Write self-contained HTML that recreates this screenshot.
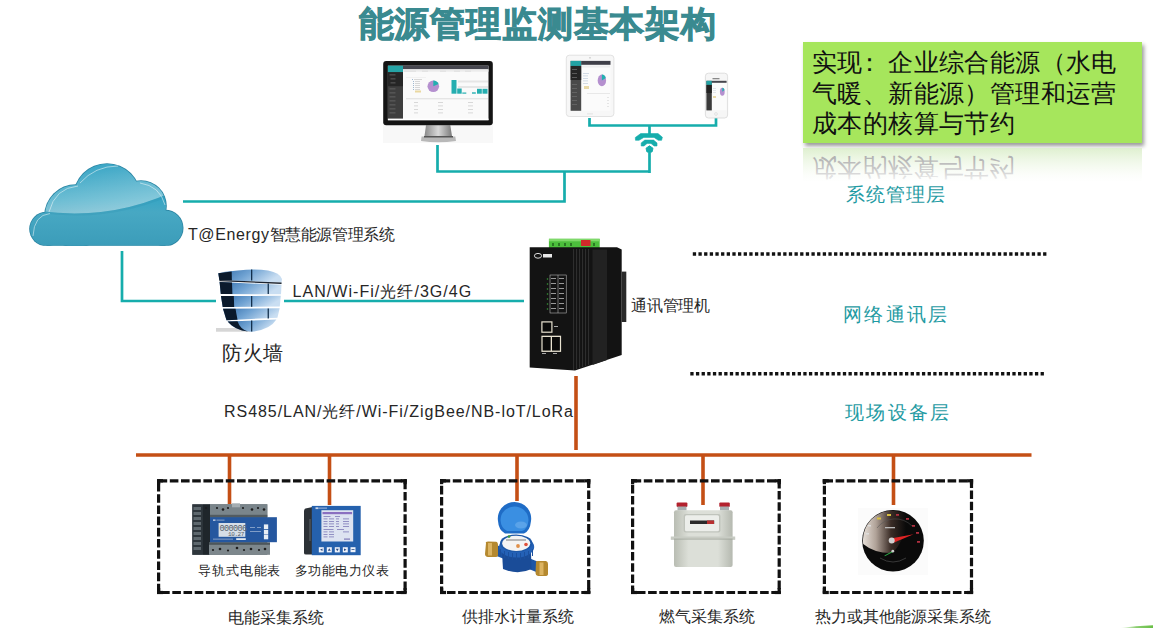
<!DOCTYPE html>
<html><head><meta charset="utf-8">
<style>
html,body{margin:0;padding:0;background:#fff;}
body{width:1153px;height:628px;position:relative;overflow:hidden;font-family:"Liberation Sans",sans-serif;color:#262626;}
.t{position:absolute;white-space:nowrap;line-height:1;}
svg{position:absolute;left:0;top:0;}
</style></head><body>
<svg width="1153" height="628" viewBox="0 0 1153 628">
  <!-- teal lines -->
  <g fill="none" stroke="#16adac" stroke-width="2.7">
    <polyline points="437.5,145 437.5,171.5 650,171.5"/>
    <polyline points="564.5,171.5 564.5,201.5 183,201.5"/>
    <polyline points="589.5,118 589.5,125.5 716,125.5 716,118"/>
    <line x1="649.5" y1="125.5" x2="649.5" y2="135"/>
    <line x1="649.5" y1="149" x2="649.5" y2="173"/>
    <polyline points="122,251 122,301 216,301"/>
    <line x1="284" y1="301" x2="524" y2="301"/>
  </g>
  <g fill="#16adac">
    <path d="M635.5,140.3 L635.3,137.5 L640.7,133.6 L658,133.6 L662.4,137.2 L661.6,140.3 L658.3,140.3 L654.1,137.4 L643.8,137.4 L639,140.3 Z" stroke="#16adac" stroke-width="0.6" stroke-linejoin="round"/>
    <path d="M641.2,146 L641.2,142.9 L644.8,140.1 L653.6,140.1 L657,142.9 L657,146 L654.1,146 L651,143.4 L647.1,143.4 L644,146 Z" stroke="#16adac" stroke-width="0.6" stroke-linejoin="round"/>
    <path d="M649.5,145.8 L653,148.3 L652,152 L647,152 L646,148.3 Z" stroke="#16adac" stroke-width="1" stroke-linejoin="round"/>
  </g>
  <!-- orange lines -->
  <g fill="none" stroke="#c44f15" stroke-width="3.6">
    <line x1="576" y1="376" x2="576" y2="450"/>
    <line x1="136" y1="455" x2="1031.5" y2="455"/>
    <line x1="229.5" y1="455" x2="229.5" y2="504"/>
    <line x1="329.5" y1="455" x2="329.5" y2="505"/>
    <line x1="517" y1="455" x2="517" y2="501"/>
    <line x1="703" y1="455" x2="703" y2="505"/>
    <line x1="893.5" y1="455" x2="893.5" y2="505"/>
  </g>
  <!-- dotted separators -->
  <g stroke="#111" stroke-width="3.5" stroke-dasharray="3.3 2.35">
    <line x1="692.8" y1="254" x2="1048.5" y2="254"/>
    <line x1="690.3" y1="373.8" x2="1046" y2="373.8"/>
  </g>
  <!-- dashed boxes -->
  <g fill="none" stroke="#111" stroke-width="3.2" stroke-dasharray="8.6 2.6">
    <rect x="158.6" y="480.8" width="246.5" height="111.7"/>
    <rect x="441.6" y="480.8" width="147.1" height="111.7"/>
    <rect x="632.6" y="480.8" width="146.6" height="111.7"/>
    <rect x="824.4" y="480.8" width="147.1" height="111.7"/>
  </g>
  <g fill="#111">
    <rect x="157" y="479.2" width="6" height="3.2"/><rect x="157" y="479.2" width="3.2" height="5"/>
    <rect x="400.7" y="479.2" width="6" height="3.2"/><rect x="403.5" y="479.2" width="3.2" height="5"/>
    <rect x="157" y="590.9" width="6" height="3.2"/><rect x="157" y="588" width="3.2" height="5"/>
    <rect x="400.7" y="590.9" width="6" height="3.2"/><rect x="403.5" y="588" width="3.2" height="5"/>
    <rect x="440" y="479.2" width="6" height="3.2"/><rect x="440" y="479.2" width="3.2" height="5"/>
    <rect x="584.3" y="479.2" width="6" height="3.2"/><rect x="587.1" y="479.2" width="3.2" height="5"/>
    <rect x="440" y="590.9" width="6" height="3.2"/><rect x="440" y="588" width="3.2" height="5"/>
    <rect x="584.3" y="590.9" width="6" height="3.2"/><rect x="587.1" y="588" width="3.2" height="5"/>
    <rect x="631" y="479.2" width="6" height="3.2"/><rect x="631" y="479.2" width="3.2" height="5"/>
    <rect x="774.8" y="479.2" width="6" height="3.2"/><rect x="777.6" y="479.2" width="3.2" height="5"/>
    <rect x="631" y="590.9" width="6" height="3.2"/><rect x="631" y="588" width="3.2" height="5"/>
    <rect x="774.8" y="590.9" width="6" height="3.2"/><rect x="777.6" y="588" width="3.2" height="5"/>
    <rect x="822.8" y="479.2" width="6" height="3.2"/><rect x="822.8" y="479.2" width="3.2" height="5"/>
    <rect x="967.1" y="479.2" width="6" height="3.2"/><rect x="969.9" y="479.2" width="3.2" height="5"/>
    <rect x="822.8" y="590.9" width="6" height="3.2"/><rect x="822.8" y="588" width="3.2" height="5"/>
    <rect x="967.1" y="590.9" width="6" height="3.2"/><rect x="969.9" y="588" width="3.2" height="5"/>
  </g>
</svg>


<svg width="1153" height="628" viewBox="0 0 1153 628">
  <defs>
    <clipPath id="cloudclip">
      <circle cx="46.5" cy="229" r="16.5"/>
      <circle cx="76" cy="216" r="31"/>
      <circle cx="107" cy="197" r="33"/>
      <circle cx="141" cy="206" r="25"/>
      <circle cx="165.2" cy="228" r="17.5"/>
      <rect x="46.5" y="212" width="119" height="33.5"/>
    </clipPath>
    <clipPath id="cloudbottom"><rect x="0" y="150" width="200" height="95.8"/></clipPath>
    <linearGradient id="cloudg" x1="0" y1="0" x2="0" y2="1">
      <stop offset="0" stop-color="#1795bb"/>
      <stop offset="0.5" stop-color="#38a6c4"/>
      <stop offset="0.62" stop-color="#47a8c3"/>
      <stop offset="1" stop-color="#3a9bb8"/>
    </linearGradient>
    <linearGradient id="glossg" x1="0" y1="0.2" x2="0.5" y2="1">
      <stop offset="0" stop-color="#fff" stop-opacity="0"/>
      <stop offset="1" stop-color="#fff" stop-opacity="0.4"/>
    </linearGradient>
    <linearGradient id="fwblue" x1="0" y1="0" x2="1" y2="0.3">
      <stop offset="0" stop-color="#2f6aa8"/>
      <stop offset="0.5" stop-color="#6fa2d2"/>
      <stop offset="1" stop-color="#c9def2"/>
    </linearGradient>
    <linearGradient id="standg" x1="0" y1="0" x2="1" y2="0">
      <stop offset="0" stop-color="#8a8a8a"/>
      <stop offset="0.5" stop-color="#d8d8d8"/>
      <stop offset="1" stop-color="#7a7a7a"/>
    </linearGradient>
    <radialGradient id="gaugeg" cx="0.2" cy="0.3" r="0.6">
      <stop offset="0" stop-color="#e8e0d8"/>
      <stop offset="0.5" stop-color="#6a5a50"/>
      <stop offset="1" stop-color="#0a0a0a"/>
    </radialGradient>
    <linearGradient id="gasg" x1="0" y1="0" x2="1" y2="0">
      <stop offset="0" stop-color="#b9bdb3"/>
      <stop offset="0.25" stop-color="#dcdfd8"/>
      <stop offset="0.75" stop-color="#dcdfd8"/>
      <stop offset="1" stop-color="#b5b9b0"/>
    </linearGradient>
  </defs>

  <!-- CLOUD -->
  <g clip-path="url(#cloudbottom)">
    <g fill="#2a84a2">
      <circle cx="46.5" cy="229" r="17.3"/>
      <circle cx="76" cy="216" r="31.8"/>
      <circle cx="107" cy="197" r="33.8"/>
      <circle cx="141" cy="206" r="25.8"/>
      <circle cx="165.2" cy="228" r="18.3"/>
      <rect x="46.5" y="212" width="119" height="34.3"/>
    </g>
    <rect x="20" y="150" width="170" height="100" fill="url(#cloudg)" clip-path="url(#cloudclip)"/>
    <path d="M20,150 L190,150 L190,183 Q120,222 40,211 L20,211 Z" fill="url(#glossg)" clip-path="url(#cloudclip)"/>
    <path d="M20,211 L40,211 Q120,222 190,183 L190,186 Q120,224 40,213 L20,213 Z" fill="#2a8fb0" opacity="0.25" clip-path="url(#cloudclip)"/>
  </g>
  <g fill="none" stroke="#ffffff" stroke-width="0.9" opacity="0.55">
    <path d="M33,236 Q34,215 50,213.5"/>
    <path d="M49,212 Q55,188 78,186"/>
    <path d="M80,183 Q95,166 118,166"/>
    <path d="M140,183 Q160,186 165,205"/>
  </g>
  <!-- FIREWALL -->
  <g>
    <path d="M216,331.7 L252,331.7 L240,328 L216,328 Z" fill="#bbb" opacity="0.6"/>
    <!-- row 1 -->
    <path d="M218.3,273.2 Q250,267.5 268,270.5 Q280,273 282,278.9 L281.6,282.6 L219.3,280 Z" fill="url(#fwblue)"/>
    <path d="M218.3,273.2 L231.7,271.6 L231.9,280.4 L219.3,280 Z" fill="#0b1a2c"/>
    <path d="M219.3,280 L281.6,282.6 L281.5,284 L219.5,281.2 Z" fill="#1c2430"/>
    <!-- row 2 -->
    <path d="M219.6,282 L281.5,284.8 L281,294.3 L220.8,294 Z" fill="url(#fwblue)"/>
    <path d="M219.6,282 L232,282.6 L232.4,294.1 L220.8,294 Z" fill="#0b1a2c"/>
    <!-- row 3 -->
    <path d="M221,296 L280.8,295.8 L279.8,306.6 L222.7,307 Z" fill="url(#fwblue)"/>
    <path d="M221,296 L233.8,296 L234.2,306.9 L222.7,307 Z" fill="#0b1a2c"/>
    <!-- row 4 -->
    <path d="M223,308.8 L279.7,308.2 L277.4,317.7 L226.5,320.2 Z" fill="url(#fwblue)"/>
    <path d="M223,308.8 L235.5,308.7 L237.5,319.7 L226.5,320.2 Z" fill="#0b1a2c"/>
    <!-- row 5 -->
    <path d="M227.6,321.6 L276.4,319.6 Q270,330 251.6,331.7 Q235,331 227.6,321.6 Z" fill="url(#fwblue)"/>
    <path d="M227.6,321.6 L237.5,321.2 Q240,329 248,331.5 Q235,330.5 227.6,321.6 Z" fill="#0b1a2c"/>
    <!-- joints -->
    <g fill="#13304d">
      <rect x="251" y="269.5" width="1.3" height="11"/>
      <rect x="267.6" y="283.5" width="1.3" height="10.5"/>
      <rect x="251" y="296" width="1.3" height="10.8"/>
      <rect x="267.6" y="308.5" width="1.3" height="10"/>
      <rect x="251" y="320.5" width="1.3" height="11"/>
    </g>
  </g>

  <!-- MONITOR -->
  <g>
    <rect x="383" y="125" width="110" height="18" fill="#f8f8f8"/>
    <path d="M426,125.3 L450.3,125.3 L452,136 L424.5,136 Z" fill="url(#standg)"/>
    <path d="M421.6,136.5 L455.3,136.5 L456,141 Q438,143.5 421,141 Z" fill="#b8b8b8"/>
    <rect x="424" y="136" width="29" height="1.5" fill="#555"/>
    <rect x="383.2" y="61" width="109.6" height="64.3" rx="3" fill="#141414"/>
    <rect x="387.9" y="65.7" width="100.6" height="54.5" fill="#fafafa"/>
    <rect x="387.9" y="65.7" width="15.1" height="54.5" fill="#3e3e3e"/>
    <rect x="387.9" y="65.7" width="15.1" height="6.5" fill="#25a4a6"/>
    <rect x="403" y="65.7" width="85.5" height="3.6" fill="#474750"/>
    <rect x="403" y="69.3" width="85.5" height="2.4" fill="#ececec"/>
    <circle cx="433.3" cy="86.3" r="5.8" fill="#b590cf"/>
    <path d="M433.3,86.3 L433.3,80.5 A5.8,5.8 0 0 1 438.6,84 Z" fill="#22b0b0"/>
    <g fill="#25aeb0">
      <rect x="451.5" y="80" width="5" height="13.7"/>
      <rect x="457.2" y="88.5" width="4.5" height="5.2"/>
      <rect x="462.3" y="92.5" width="4" height="1.2"/>
      <rect x="472" y="92.3" width="3.8" height="1.4"/>
      <rect x="477" y="88.8" width="4.8" height="4.9"/>
      <rect x="482.5" y="88.8" width="5" height="4.9"/>
    </g>
    <rect x="458" y="80.5" width="30" height="2" fill="#e6e6e6"/>
    <rect x="458" y="86" width="30" height="2" fill="#e6e6e6"/>
    <g fill="#d0d0d0">
      <rect x="406" y="98.5" width="82" height="0.7"/>
      <rect x="414" y="102" width="4" height="0.8"/><rect x="438" y="102" width="5" height="0.8"/><rect x="468" y="102" width="5" height="0.8"/>
      <rect x="414" y="105.5" width="4" height="0.8"/><rect x="438" y="105.5" width="5" height="0.8"/><rect x="468" y="105.5" width="5" height="0.8"/>
      <rect x="414" y="109" width="4" height="0.8"/><rect x="438" y="109" width="5" height="0.8"/><rect x="468" y="109" width="5" height="0.8"/>
      <rect x="414" y="112.5" width="4" height="0.8"/><rect x="438" y="112.5" width="5" height="0.8"/><rect x="468" y="112.5" width="5" height="0.8"/>
    </g>
    <rect x="387.9" y="72.2" width="15.1" height="14" fill="#262626"/>
    <g fill="#6a6a6a">
      <rect x="389.5" y="74.5" width="6" height="0.8"/>
      <rect x="390.5" y="78.5" width="5" height="0.8"/>
      <rect x="390.5" y="82.5" width="5" height="0.8"/>
      <rect x="389.5" y="88.5" width="6" height="0.8"/>
      <rect x="389.5" y="92.5" width="6" height="0.8"/>
      <rect x="389.5" y="96.5" width="6" height="0.8"/>
      <rect x="389.5" y="100.5" width="6" height="0.8"/>
      <rect x="389.5" y="104.5" width="6" height="0.8"/>
      <rect x="389.5" y="108.5" width="6" height="0.8"/>
      <rect x="389.5" y="112.5" width="6" height="0.8"/>
    </g>
    <g fill="#e2e2e2"><rect x="404" y="70.5" width="12" height="1.3"/><rect x="422" y="70.5" width="6" height="1.3"/><rect x="440" y="70.5" width="6" height="1.3"/><rect x="454" y="70.5" width="6" height="1.3"/><rect x="465" y="70.5" width="6" height="1.3"/></g>
    <g fill="#9fb8d0"><rect x="412" y="79" width="1" height="1"/><rect x="413" y="81" width="1" height="1"/><rect x="413" y="83" width="1" height="1"/><rect x="413" y="85" width="1" height="1"/><rect x="413" y="87" width="1" height="1"/><rect x="413" y="89" width="1" height="1"/></g>
    <g fill="#c8c8c8"><rect x="414" y="79" width="8" height="0.7"/><rect x="415" y="81" width="5" height="0.7"/><rect x="415" y="83" width="5" height="0.7"/><rect x="415" y="85" width="5" height="0.7"/><rect x="415" y="87" width="5" height="0.7"/><rect x="415" y="89" width="5" height="0.7"/></g>
    <rect x="415" y="90.5" width="6" height="2" fill="#ead8a0"/>
    <rect x="406" y="77" width="20" height="0.5" fill="#e8e8e8"/>
    <rect x="387.9" y="118.6" width="100.6" height="1.6" fill="#ffffff"/>
  </g>

  <!-- TABLET -->
  <g>
    <rect x="566.3" y="55.2" width="47.6" height="61.3" rx="3" fill="#f7f7f7" stroke="#dcdcdc" stroke-width="0.8"/>
    <circle cx="590" cy="57.8" r="0.6" fill="#999"/>
    <rect x="570.6" y="60.9" width="39.9" height="49.9" fill="#fbfbfb"/>
    <rect x="570.6" y="60.9" width="10.6" height="49.9" fill="#4a4a4a"/>
    <rect x="570.6" y="66" width="10.6" height="14" fill="#262626"/>
    <rect x="570.6" y="60.9" width="10.6" height="5" fill="#22a2a4"/>
    <rect x="581.2" y="60.9" width="29.3" height="3.9" fill="#3f3f48"/>
    <g fill="#6a6a6a"><rect x="572" y="69" width="5" height="0.8"/><rect x="572" y="73" width="5" height="0.8"/><rect x="572" y="77" width="5" height="0.8"/><rect x="572" y="84" width="5" height="0.8"/><rect x="572" y="88" width="5" height="0.8"/><rect x="572" y="92" width="5" height="0.8"/><rect x="572" y="96" width="5" height="0.8"/><rect x="572" y="100" width="5" height="0.8"/><rect x="572" y="104" width="5" height="0.8"/></g>
    <rect x="582" y="65.5" width="28" height="2" fill="#eeeeee"/>
    <ellipse cx="601.9" cy="80.4" rx="4.2" ry="5.8" fill="#b590cf"/>
    <path d="M601.9,80.4 L601.9,74.6 A4.2,5.8 0 0 1 605.8,78 Z" fill="#22b0b0"/>
    <g fill="#c8d4e0"><rect x="583" y="73" width="6" height="0.8"/><rect x="583" y="75.5" width="5" height="0.8"/><rect x="583" y="78" width="5" height="0.8"/><rect x="583" y="80.5" width="5" height="0.8"/><rect x="583" y="83" width="5" height="0.8"/></g>
    <rect x="584" y="86" width="5" height="3" fill="#e8d9a8"/>
    <rect x="587" y="93" width="23" height="0.6" fill="#ddd"/>
    <g fill="#d8d8d8"><rect x="607" y="97" width="2" height="0.6"/><rect x="607" y="100" width="2" height="0.6"/><rect x="607" y="103" width="2" height="0.6"/><rect x="607" y="106" width="2" height="0.6"/></g>
    <rect x="587" y="113.5" width="6" height="0.8" fill="#ddd"/>
  </g>

  <!-- PHONE -->
  <g>
    <rect x="705.4" y="73.2" width="22.2" height="44.8" rx="3" fill="#f6f6f6" stroke="#d8d8d8" stroke-width="0.8"/>
    <rect x="706.4" y="80.8" width="20.2" height="29.6" fill="#fbfbfb"/>
    <rect x="706.4" y="80.8" width="5.4" height="29.6" fill="#3a3a3a"/>
    <rect x="706.4" y="85" width="5.4" height="8" fill="#222"/>
    <rect x="706.4" y="80.8" width="5.4" height="4" fill="#22a2a4"/>
    <rect x="711.8" y="80.8" width="14.8" height="2" fill="#45454d"/>
    <ellipse cx="722.3" cy="91.8" rx="2.4" ry="4" fill="#b590cf"/>
    <path d="M722.3,91.8 L722.3,87.8 A2.4,4 0 0 1 724.5,90 Z" fill="#22b0b0"/>
    <g fill="#d0d8e0"><rect x="713" y="88" width="3" height="0.6"/><rect x="713" y="90" width="3" height="0.6"/><rect x="713" y="92" width="3" height="0.6"/></g>
    <rect x="713" y="96" width="3" height="2" fill="#e8d9a8"/>
    <rect x="712.5" y="78" width="7" height="1.3" fill="#8a8a8a"/>
    <circle cx="716" cy="114" r="1.4" fill="none" stroke="#ccc" stroke-width="0.5"/>
  </g>

  <!-- COMM DEVICE -->
  <g>
    <rect x="548.9" y="238.8" width="50.8" height="9.2" fill="#4cbf3c"/>
    <rect x="549" y="238.8" width="50.7" height="2.5" fill="#7fd96a"/>
    <rect x="581" y="240" width="9.5" height="6" fill="#d02a2a"/>
    <g fill="#2a7a22"><rect x="552" y="243" width="2" height="3"/><rect x="558" y="243" width="2" height="3"/><rect x="564" y="243" width="2" height="3"/><rect x="570" y="243" width="2" height="3"/><rect x="593" y="243" width="2" height="3"/></g>
    <path d="M529.7,247.3 L617,247.3 L621.7,249.6 L621.7,355 L575,370.6 L529.7,367.5 Z" fill="#131313"/>
    <rect x="621.7" y="271.6" width="4.6" height="50.4" fill="#2a2a2a"/>
    <g fill="#2e2e2e">
      <rect x="573" y="249" width="1.1" height="121"/>
      <rect x="576" y="249" width="1.1" height="120"/>
      <rect x="579" y="249" width="1.1" height="119"/>
      <rect x="582" y="249" width="1.1" height="118"/>
      <rect x="585" y="249" width="1.1" height="117"/>
      <rect x="588" y="249" width="1.1" height="116"/>
    </g>
    <path d="M592.5,249.5 L607,249.5 L607,360 L592.5,365 Z" fill="#222"/>
    <g fill="#e8e8e8">
      <ellipse cx="538" cy="255.8" rx="3.6" ry="2.4" fill="none" stroke="#ddd" stroke-width="1"/>
      <rect x="543" y="254" width="9" height="3.5"/>
    </g>
    <g fill="none" stroke="#cfcfcf" stroke-width="0.5">
      <rect x="550" y="275" width="16.2" height="38"/>
      <line x1="558" y1="275" x2="558" y2="313"/>
    </g>
    <g fill="#999"><rect x="551" y="278" width="5" height="1"/><rect x="551" y="283" width="5" height="1"/><rect x="551" y="288" width="5" height="1"/><rect x="551" y="293" width="5" height="1"/><rect x="551" y="298" width="5" height="1"/><rect x="551" y="303" width="5" height="1"/><rect x="551" y="308" width="5" height="1"/>
    <rect x="559" y="278" width="5" height="1"/><rect x="559" y="283" width="5" height="1"/><rect x="559" y="288" width="5" height="1"/><rect x="559" y="293" width="5" height="1"/><rect x="559" y="298" width="5" height="1"/><rect x="559" y="303" width="5" height="1"/><rect x="559" y="308" width="5" height="1"/></g>
    <g fill="#3a9a3a"><circle cx="547.5" cy="279" r="0.8"/><circle cx="547.5" cy="284" r="0.8"/><circle cx="547.5" cy="289" r="0.8"/><circle cx="547.5" cy="294" r="0.8"/><circle cx="547.5" cy="299" r="0.8"/><circle cx="547.5" cy="304" r="0.8"/><circle cx="547.5" cy="309" r="0.8"/></g>
    <g fill="#e8e2d0">
      <rect x="541.3" y="321.3" width="11.2" height="11.5"/>
      <rect x="541.4" y="335.7" width="19.7" height="16.2"/>
    </g>
    <g fill="#0a0a0a"><rect x="542.5" y="322.5" width="8.8" height="9.1"/><rect x="542.6" y="337" width="8.1" height="13.6"/><rect x="552" y="337" width="7.9" height="13.6"/></g>
    <g fill="#aaa"><rect x="542" y="353" width="4" height="1"/><rect x="553" y="353" width="4" height="1"/><rect x="554" y="326" width="4" height="1"/></g>
  </g>

  <!-- METER 1 (DIN rail) -->
  <g>
    <rect x="192.3" y="504.3" width="75" height="50.5" fill="#5d676d"/>
    <rect x="209" y="504.3" width="58.3" height="12.8" fill="#7a858b"/>
    <rect x="209" y="514.8" width="58.3" height="2.4" fill="#525b60"/>
    <rect x="232" y="503.3" width="8" height="4" fill="#a4adb2"/>
    <rect x="192.3" y="504.3" width="10" height="50.5" fill="#2e363c"/>
    <g fill="#5e686e"><rect x="193.5" y="507" width="7.5" height="3"/><rect x="193.5" y="512" width="7.5" height="3"/><rect x="193.5" y="517" width="7.5" height="3"/><rect x="193.5" y="522" width="7.5" height="3"/><rect x="193.5" y="527" width="7.5" height="3"/><rect x="193.5" y="532" width="7.5" height="3"/><rect x="193.5" y="537" width="7.5" height="3"/><rect x="193.5" y="542" width="7.5" height="3"/><rect x="193.5" y="547" width="7.5" height="3"/></g>
    <rect x="202.3" y="504.3" width="7.7" height="50.5" fill="#1f262b"/>
    <rect x="209" y="542.5" width="61" height="12.3" fill="#7d878c"/>
    <rect x="209" y="542.5" width="61" height="2.3" fill="#4d565b"/>
    <g fill="#1d1d1d"><circle cx="206" cy="508" r="1.1"/><circle cx="217" cy="508" r="1.1"/><circle cx="223" cy="509.5" r="1.3"/><circle cx="228" cy="508" r="1.1"/><circle cx="243" cy="508" r="1.1"/><circle cx="252" cy="509.5" r="1.3"/><circle cx="258" cy="508" r="1.1"/><circle cx="264" cy="509.5" r="1.3"/>
    <circle cx="213" cy="550" r="1.1"/><circle cx="220" cy="549" r="1.3"/><circle cx="228" cy="550.5" r="1.1"/><circle cx="237" cy="548" r="1.3"/><circle cx="244" cy="550" r="1.1"/><circle cx="251" cy="549" r="1.3"/><circle cx="259" cy="550" r="1.1"/><circle cx="265" cy="549" r="1.3"/></g>
    <rect x="210" y="517.2" width="66.9" height="25" fill="#25579f"/>
    <rect x="218.6" y="523" width="26.7" height="13.8" fill="#d6dee7"/>
    <text x="219.5" y="531" font-family="Liberation Mono" font-size="8.5" fill="#55606a" letter-spacing="-0.6">000006</text>
    <text x="228" y="536.3" font-family="Liberation Mono" font-size="6" fill="#55606a" letter-spacing="-0.4">10.27</text>
    <g fill="#e8eef5"><rect x="263.9" y="524.4" width="4.3" height="4.6"/><rect x="263.9" y="529.8" width="4.3" height="4.6"/><rect x="263.9" y="534.8" width="4.3" height="4.5"/></g>
    <g fill="#a8bcd8"><rect x="250" y="527" width="5" height="0.7"/><rect x="257" y="527" width="4" height="0.7"/><rect x="250" y="531" width="11" height="0.7"/></g>
    <rect x="213" y="519.5" width="2.5" height="1.3" fill="#cfd8e8"/><rect x="216.5" y="519.7" width="8" height="0.8" fill="#9fb2d0"/>
    <rect x="213" y="538.7" width="20" height="0.8" fill="#9fb2d0"/>
    <rect x="236.2" y="538.2" width="9.6" height="1.8" fill="#e2e8ef"/>
  </g>

  <!-- METER 2 -->
  <g>
    <path d="M305.5,508.5 Q304,509 304,511 L304,553 Q304,554.5 306,554.5 L312.5,554.5 L312.5,507 Z" fill="#2c3136"/>
    <g fill="#454b50"><rect x="309" y="519" width="2" height="22"/></g>
    <rect x="311.8" y="505.9" width="48.9" height="49.3" fill="#2561ad"/>
    <rect x="321.4" y="510.2" width="31.8" height="31.3" fill="#dde3f1"/>
    <rect x="322.5" y="512" width="29.6" height="2.2" fill="#8a70c0"/>
    <g fill="#7f7ab8">
      <rect x="323.5" y="516" width="7" height="0.8"/><rect x="335" y="516" width="5" height="0.8"/>
      <rect x="323.5" y="518.5" width="4" height="0.8"/><rect x="329" y="518.5" width="5" height="0.8"/><rect x="336" y="518.5" width="3" height="0.8"/><rect x="343" y="518.5" width="6" height="0.8"/>
      <rect x="323.5" y="521" width="4" height="0.8"/><rect x="329" y="521" width="5" height="0.8"/><rect x="336" y="521" width="3" height="0.8"/><rect x="343" y="521" width="6" height="0.8"/>
      <rect x="323.5" y="523.5" width="4" height="0.8"/><rect x="329" y="523.5" width="5" height="0.8"/><rect x="336" y="523.5" width="3" height="0.8"/><rect x="343" y="523.5" width="6" height="0.8"/>
      <rect x="323.5" y="526" width="4" height="0.8"/><rect x="329" y="526" width="5" height="0.8"/><rect x="336" y="526" width="3" height="0.8"/><rect x="343" y="526" width="6" height="0.8"/>
      <rect x="323.5" y="529" width="10" height="0.8"/><rect x="337" y="529" width="7" height="0.8"/>
      <rect x="323.5" y="531.5" width="4" height="0.8"/><rect x="329" y="531.5" width="5" height="0.8"/><rect x="343" y="531.5" width="6" height="0.8"/>
      <rect x="323.5" y="534" width="4" height="0.8"/><rect x="329" y="534" width="5" height="0.8"/>
      <rect x="323.5" y="536.5" width="4" height="0.8"/><rect x="329" y="536.5" width="5" height="0.8"/>
      <rect x="344" y="538.5" width="6" height="1.2"/>
    </g>
    <g fill="#eef2fa"><rect x="318.8" y="547.2" width="5" height="5.2"/><rect x="326.8" y="547.2" width="5" height="5.2"/><rect x="334.8" y="547.2" width="5" height="5.2"/><rect x="342.8" y="547.2" width="5" height="5.2"/><rect x="350.5" y="547.2" width="5" height="5"/></g>
    <g fill="#2a4a80"><path d="M322.5,548.5 L320,549.8 L322.5,551.1 Z"/><path d="M329.3,548.3 L327.8,550.8 L330.8,550.8 Z"/><path d="M335.8,548.8 L338.8,548.8 L337.3,551.2 Z"/><path d="M344,548.5 L346.5,549.8 L344,551.1 Z"/><rect x="351.5" y="549.2" width="3" height="0.8"/></g>
    <rect x="315.5" y="507.3" width="3" height="1.8" fill="#c8d4e8"/>
    <rect x="319" y="507.6" width="8" height="1" fill="#aabbe0"/>
  </g>

  <!-- WATER METER -->
  <g>
    <line x1="494" y1="549.5" x2="540" y2="568" stroke="#1d55a5" stroke-width="10"/>
    <path d="M486,543 Q485,541.5 488,541.5 L496,541.8 Q498,542 498,545 L498,555 Q498,557 495,557 L488,557 Q485,556.5 485,554 Z" fill="#b5892f"/>
    <rect x="488" y="543" width="4" height="12.5" fill="#dcb462"/>
    <path d="M536,562 Q535.5,561 538,561 L546,561 Q548,561.5 548,564 L548,574 Q548,576 545,576 L538,576 Q535.5,575.5 535.5,573 Z" fill="#b5892f"/>
    <rect x="539.5" y="562.5" width="4" height="12.5" fill="#dcb462"/>
    <path d="M502,552 L531,552 L531.5,569 Q518,575.5 503,569 Z" fill="#1a4c98"/>
    <ellipse cx="516.6" cy="547" rx="17.6" ry="10.5" fill="#2461b6"/>
    <g fill="#1b509e"><rect x="500" y="549" width="1" height="7"/><rect x="504" y="551" width="1" height="7"/><rect x="508" y="552" width="1" height="7"/><rect x="512" y="553" width="1" height="7"/><rect x="516" y="553" width="1" height="7"/><rect x="520" y="553" width="1" height="7"/><rect x="524" y="552" width="1" height="7"/><rect x="528" y="551" width="1" height="7"/><rect x="532" y="549" width="1" height="7"/></g>
    <ellipse cx="516.2" cy="543.3" rx="16.2" ry="8.8" fill="#1d58a8"/>
    <ellipse cx="516.2" cy="543.3" rx="14" ry="7.6" fill="#f4f4f4"/>
    <circle cx="518" cy="546" r="1.9" fill="#e0904a"/>
    <circle cx="526" cy="544.5" r="1.8" fill="#e0503a"/>
    <rect x="506" y="539.5" width="20" height="1" fill="#7a7a7a"/>
    <circle cx="509" cy="536.6" r="1.4" fill="#3a9a40"/>
    <path d="M498,521 A16.7,16.5 0 1 1 531,521 Q530,531 524,533.5 L505,533.5 Q498.5,530 498,521 Z" fill="#1f6cc6"/>
    <path d="M500.5,520 A14,13.5 0 1 1 528.5,520 Q528,529 522,531 L507,531 Q501,528 500.5,520 Z" fill="#3a8fe2"/>
    <ellipse cx="521" cy="525" rx="6" ry="3.5" fill="#7ab8f0" opacity="0.5"/>
  </g>

  <!-- GAS METER -->
  <g>
    <rect x="676.6" y="502.4" width="10.8" height="4.5" rx="1" fill="#b3222e"/>
    <rect x="719.3" y="502.4" width="10.5" height="4.5" rx="1" fill="#b3222e"/>
    <rect x="677.5" y="506.5" width="9" height="4" fill="#a8aeb0"/>
    <rect x="720" y="506.5" width="9" height="4" fill="#a8aeb0"/>
    <rect x="674" y="510.3" width="58.6" height="56.7" rx="2" fill="url(#gasg)"/>
    <rect x="670.8" y="536.5" width="64.4" height="2.2" fill="#c8ccc4"/>
    <rect x="670.8" y="538.7" width="64.4" height="0.8" fill="#9ea39a"/>
    <rect x="683.6" y="514" width="36.9" height="18.6" rx="2" fill="#c0c4bc"/>
    <rect x="685" y="515.3" width="34" height="16" rx="1.5" fill="#eceeea"/>
    <rect x="690" y="520.5" width="24.2" height="3.5" fill="#2a2a2a"/>
    <rect x="707" y="520.5" width="7" height="3.5" fill="#b83030"/>
  </g>

  <!-- GAUGE -->
  <g>
    <rect x="858" y="508" width="70" height="67" fill="#fbfbfb"/>
    <circle cx="893" cy="540.8" r="30.8" fill="#0a0a0a"/>
    <defs>
      <linearGradient id="gsweep" x1="0" y1="0" x2="1" y2="0">
        <stop offset="0" stop-color="#e6dfd8"/>
        <stop offset="0.3" stop-color="#b0a298"/>
        <stop offset="0.65" stop-color="#3a2c26"/>
        <stop offset="1" stop-color="#0a0a0a"/>
      </linearGradient>
    </defs>
    <path d="M863.2,544 A29.5,29.5 0 0 1 906,514 L906,530 Q897,552 890.6,553 Q874,553 863.2,544 Z" fill="url(#gsweep)"/>
    <path d="M877,528 A23,23 0 0 1 912,526" fill="none" stroke="#555" stroke-width="0.5"/>
    <path d="M892,538.3 L913.6,534.3 L893,543 Z" fill="#e02424"/>
    <circle cx="891.7" cy="540.6" r="3" fill="#d0d0d0"/>
    <path d="M892.6,551 L884.5,555.5 L884.8,556.2 L893,552 Z" fill="#2fb04a"/>
    <circle cx="892.8" cy="551.2" r="1.4" fill="#ccc"/>
    <g fill="#d8c040"><rect x="877" y="517.5" width="4" height="2"/><rect x="887" y="514" width="4" height="2"/></g>
    <g fill="#b03040"><rect x="896" y="514" width="3" height="1.8"/><rect x="906" y="518" width="3" height="1.8"/><rect x="912" y="525" width="3" height="1.8"/><rect x="916" y="532" width="3" height="1.8"/><rect x="917" y="541" width="3" height="1.8"/></g>
    <g fill="#ddd"><rect x="868" y="525" width="3" height="1.5"/><rect x="866" y="533" width="3" height="1.5"/></g>
    <path d="M880,558 Q893,566 906,558" fill="none" stroke="#666" stroke-width="0.5"/>
    <rect x="885" y="527" width="10" height="1.3" fill="#bbb"/>
  </g>
  <!-- green corner arc -->
  <defs><linearGradient id="gcorner" x1="0" y1="0" x2="1" y2="0"><stop offset="0" stop-color="#6cc04a" stop-opacity="0"/><stop offset="0.5" stop-color="#6cc04a" stop-opacity="0.8"/><stop offset="1" stop-color="#68bf45"/></linearGradient></defs>
  <path d="M1120,628 Q1135,626 1153,625.3 L1153,628 Z" fill="url(#gcorner)"/>
</svg>

<div class="t" style="left:358.5px;top:7.3px;font-size:34.8px;font-weight:900;color:#3a8a90;letter-spacing:0.85px;-webkit-text-stroke:0.9px #3a8a90;">能源管理监测基本架构</div>

<div style="position:absolute;left:803px;top:42px;width:339px;height:101px;background:#a6e65c;box-shadow:2px 3px 4px rgba(0,0,0,0.4);"></div>
<div style="position:absolute;left:803px;top:147.5px;width:339px;height:33.5px;overflow:hidden;">
  <div style="position:absolute;left:0;top:0;width:339px;height:38px;background:linear-gradient(#d0e9ba,#e9f5de 50%,#fff 97%);"></div>
  <div class="t" style="left:9px;top:-100.5px;font-size:25px;line-height:30.5px;color:#777;letter-spacing:0.4px;transform:scaleY(-1);transform-origin:0 98.4px;">实现<span style="position:relative;left:-5.5px">：</span>企业综合能源（水电<br>气暖、新能源）管理和运营<br>成本的核算与节约</div>
  <div style="position:absolute;left:0;top:0;width:339px;height:38px;background:linear-gradient(rgba(255,255,255,0.3),rgba(255,255,255,0.6) 55%,rgba(255,255,255,1) 98%);"></div>
</div>
<div class="t" style="left:812px;top:47px;font-size:25px;line-height:30.5px;color:#111;letter-spacing:0.4px;">实现<span style="position:relative;left:-5.5px">：</span>企业综合能源（水电<br>气暖、新能源）管理和运营<br>成本的核算与节约</div>

<div class="t" style="left:846px;top:186px;font-size:18.5px;letter-spacing:1.0px;color:#1f9ba3;">系统管理层</div>
<div class="t" style="left:843px;top:306px;font-size:18.5px;letter-spacing:2.35px;color:#1f9ba3;">网络通讯层</div>
<div class="t" style="left:845px;top:404px;font-size:18.5px;letter-spacing:2.35px;color:#1f9ba3;">现场设备层</div>

<div class="t" style="left:188px;top:226.5px;font-size:16px;"><span style="letter-spacing:0.6px">T@Energy</span><span style="letter-spacing:-0.35px">智慧能源管理系统</span></div>
<div class="t" style="left:292.5px;top:284px;font-size:16px;letter-spacing:1.05px;">LAN/Wi-Fi/光纤/3G/4G</div>
<div class="t" style="left:222px;top:344px;font-size:19.5px;letter-spacing:0.6px;">防火墙</div>
<div class="t" style="left:631px;top:298px;font-size:15.5px;letter-spacing:-0.2px;">通讯管理机</div>
<div class="t" style="left:224px;top:403.5px;font-size:16px;letter-spacing:0.95px;">RS485/LAN/光纤/Wi-Fi/ZigBee/NB-loT/LoRa</div>

<div class="t" style="left:198px;top:564.5px;font-size:12.9px;letter-spacing:0.9px;">导轨式电能表</div>
<div class="t" style="left:294.5px;top:564.5px;font-size:12.9px;letter-spacing:0.55px;">多功能电力仪表</div>
<div class="t" style="left:228px;top:610px;font-size:16px;">电能采集系统</div>
<div class="t" style="left:462px;top:609px;font-size:16px;">供排水计量系统</div>
<div class="t" style="left:659px;top:609px;font-size:16px;">燃气采集系统</div>
<div class="t" style="left:815px;top:609px;font-size:16px;">热力或其他能源采集系统</div>
</body></html>
